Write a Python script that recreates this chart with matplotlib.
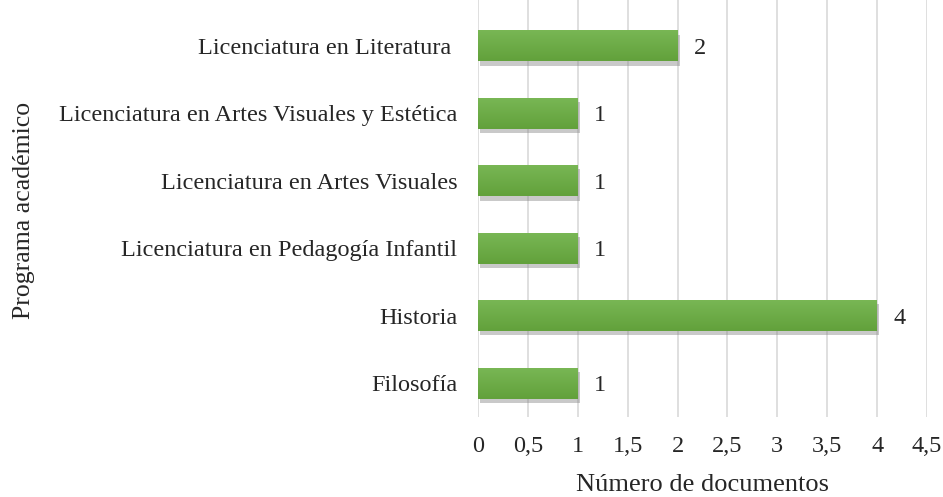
import matplotlib
matplotlib.use("Agg")
import matplotlib.pyplot as plt
import matplotlib.patheffects as pe
import numpy as np
from matplotlib.colors import LinearSegmentedColormap
from matplotlib.ticker import FuncFormatter

# datos del gráfico
programas = [
    "Filosofía",
    "Historia",
    "Licenciatura en Pedagogía Infantil",
    "Licenciatura en Artes Visuales",
    "Licenciatura en Artes Visuales y Estética",
    "Licenciatura en Literatura ",
]
documentos = [1, 4, 1, 1, 1, 2]

plt.rcParams['font.family'] = ['Liberation Serif', 'DejaVu Serif']
txt_color = '#262626'

fig = plt.figure(figsize=(9.43, 4.97), dpi=100)
ax = fig.add_axes([0.507, 0.161, 0.476, 0.839])

pos = list(range(len(programas)))
bars = ax.barh(pos, documentos, height=0.46, color='#6dab45', zorder=3)

# degradado verde como en Excel
cmap = LinearSegmentedColormap.from_list('verde', ['#62a13b', '#79b755'])
grad = np.linspace(0, 1, 64).reshape(-1, 1)
for b in bars:
    b.set_path_effects([pe.SimplePatchShadow(offset=(1.5, -3), shadow_rgbFace='#888888', alpha=0.45),
                        pe.Normal()])
    x0, y0 = b.get_x(), b.get_y()
    im = ax.imshow(grad, cmap=cmap, aspect='auto', origin='lower', zorder=4,
                   extent=(x0, x0 + b.get_width(), y0, y0 + b.get_height()))
    im.set_clip_path(b)

for p, v in zip(pos, documentos):
    ax.text(v + 0.16, p, str(v), va='center_baseline', ha='left', fontsize=17.5, color=txt_color)

ax.set_xlim(0, 4.5)
ax.set_ylim(-0.5, 5.68)
ax.set_xticks([i * 0.5 for i in range(10)])
ax.xaxis.set_major_formatter(FuncFormatter(lambda x, _: f"{x:g}".replace('.', ',')))
ax.set_yticks(pos)
ax.set_yticklabels(programas)
ax.tick_params(axis='both', length=0, labelsize=17.5, colors=txt_color)
ax.tick_params(axis='x', pad=14)
ax.tick_params(axis='y', pad=15)
ax.grid(axis='x', color='#d9d9d9', linewidth=1.2, zorder=0)
for s in ax.spines.values():
    s.set_visible(False)

ax.set_xlabel('Número de documentos', fontsize=19, color=txt_color, labelpad=12)
fig.text(0.025, 0.577, 'Programa académico', rotation=90, va='center', ha='center',
         fontsize=18.5, color=txt_color)

fig.savefig('out.png', dpi=100)
